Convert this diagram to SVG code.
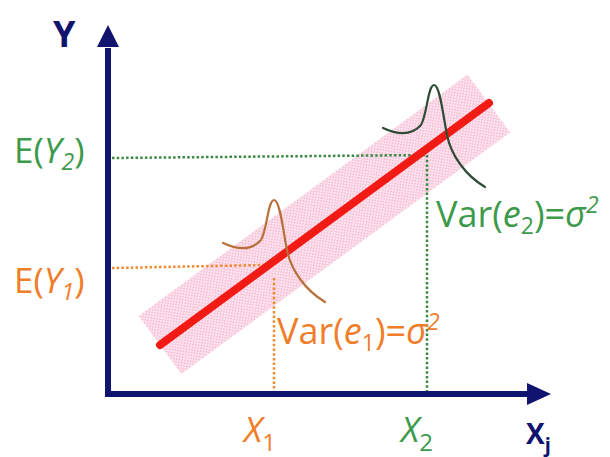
<svg xmlns="http://www.w3.org/2000/svg" width="610" height="457" viewBox="0 0 610 457">
  <defs>
    <pattern id="dots" width="4" height="4" patternUnits="userSpaceOnUse">
      <rect width="4" height="4" fill="#fde6ef"/>
      <circle cx="1" cy="1" r="1" fill="#f7bcd3"/>
      <circle cx="3" cy="3" r="1" fill="#f7bcd3"/>
    </pattern>
  </defs>
  <style>
    .t { font-family: "Open Sans", "Liberation Sans", sans-serif; }
    .g { fill: #3d9a4b; }
    .o { fill: #f07d2a; }
    .n { fill: #10146e; font-weight: bold; }
    .it { font-style: italic; }
    .dotg { stroke: #3a8a45; stroke-width: 2.5; stroke-dasharray: 2.5 2.2; fill: none; }
    .doto { stroke: #f08a30; stroke-width: 2.5; stroke-dasharray: 2.5 2.2; fill: none; }
    .bell { fill: none; stroke-width: 2.2; stroke-linecap: round; }
  </style>

  <g id="band">
    <rect x="0" y="-36" width="408" height="72" fill="url(#dots)" transform="translate(160,345) rotate(-36.3)"/>
  </g>

  <g id="connectors">
    <path class="dotg" d="M112,158 L425,155"/>
    <path class="dotg" d="M427,155 L427,392"/>
    <path class="doto" d="M112,268 L264,265"/>
    <path class="doto" d="M274,278 L274,392"/>
  </g>

  <g id="axes">
    <path d="M108,48 L108,394 L530,394" fill="none" stroke="#10146e" stroke-width="6" stroke-linejoin="miter"/>
    <path d="M108,25 L119,47 L97,47 Z" fill="#10146e"/>
    <path d="M551,394 L527,383 L527,405 Z" fill="#10146e"/>
  </g>

  <g id="regression-line">
    <line x1="160" y1="345" x2="489" y2="103" stroke="#f21a14" stroke-width="8" stroke-linecap="round"/>
  </g>

  <g id="bell1">
    <path class="bell" stroke="#b8703a" d="M223,243 C238,250 252,250 261,240 C267,230 268,200 274,200 C280,200 283,230 287,250 C291,270 305,290 325,302"/>
  </g>
  <g id="bell2">
    <path class="bell" stroke="#2f4a36" d="M383,128 C398,135 412,135 421,125 C427,115 428,85 434,85 C440,85 443,115 447,135 C451,155 465,175 485,187"/>
  </g>

  <g id="label-Y">
    <text class="t n" x="53" y="47" font-size="36">Y</text>
  </g>
  <g id="label-EY2">
    <text class="t g" x="14" y="163" font-size="35">E(<tspan class="it">Y</tspan><tspan class="it" font-size="23" dy="7">2</tspan><tspan dy="-7">)</tspan></text>
  </g>
  <g id="label-EY1">
    <text class="t o" x="14" y="293" font-size="35">E(<tspan class="it">Y</tspan><tspan class="it" font-size="23" dy="7">1</tspan><tspan dy="-7">)</tspan></text>
  </g>
  <g id="label-var2">
    <text class="t g" x="436" y="227" font-size="36">Var(<tspan class="it">e</tspan><tspan font-size="23" dy="7">2</tspan><tspan dy="-7">)=</tspan><tspan class="it">σ</tspan><tspan class="it" font-size="23" dy="-14">2</tspan></text>
  </g>
  <g id="label-var1">
    <text class="t o" x="277" y="344" font-size="36">Var(<tspan class="it">e</tspan><tspan font-size="23" dy="7">1</tspan><tspan dy="-7">)=</tspan><tspan class="it">σ</tspan><tspan class="it" font-size="23" dy="-14">2</tspan></text>
  </g>
  <g id="label-X1">
    <text class="t o" x="244" y="442" font-size="35"><tspan class="it">X</tspan><tspan font-size="24" dy="9">1</tspan></text>
  </g>
  <g id="label-X2">
    <text class="t g" x="401" y="442" font-size="35"><tspan class="it">X</tspan><tspan font-size="24" dy="9">2</tspan></text>
  </g>
  <g id="label-Xj">
    <text class="t n" x="526" y="444" font-size="28">X<tspan font-size="20" dy="8">j</tspan></text>
  </g>
</svg>
